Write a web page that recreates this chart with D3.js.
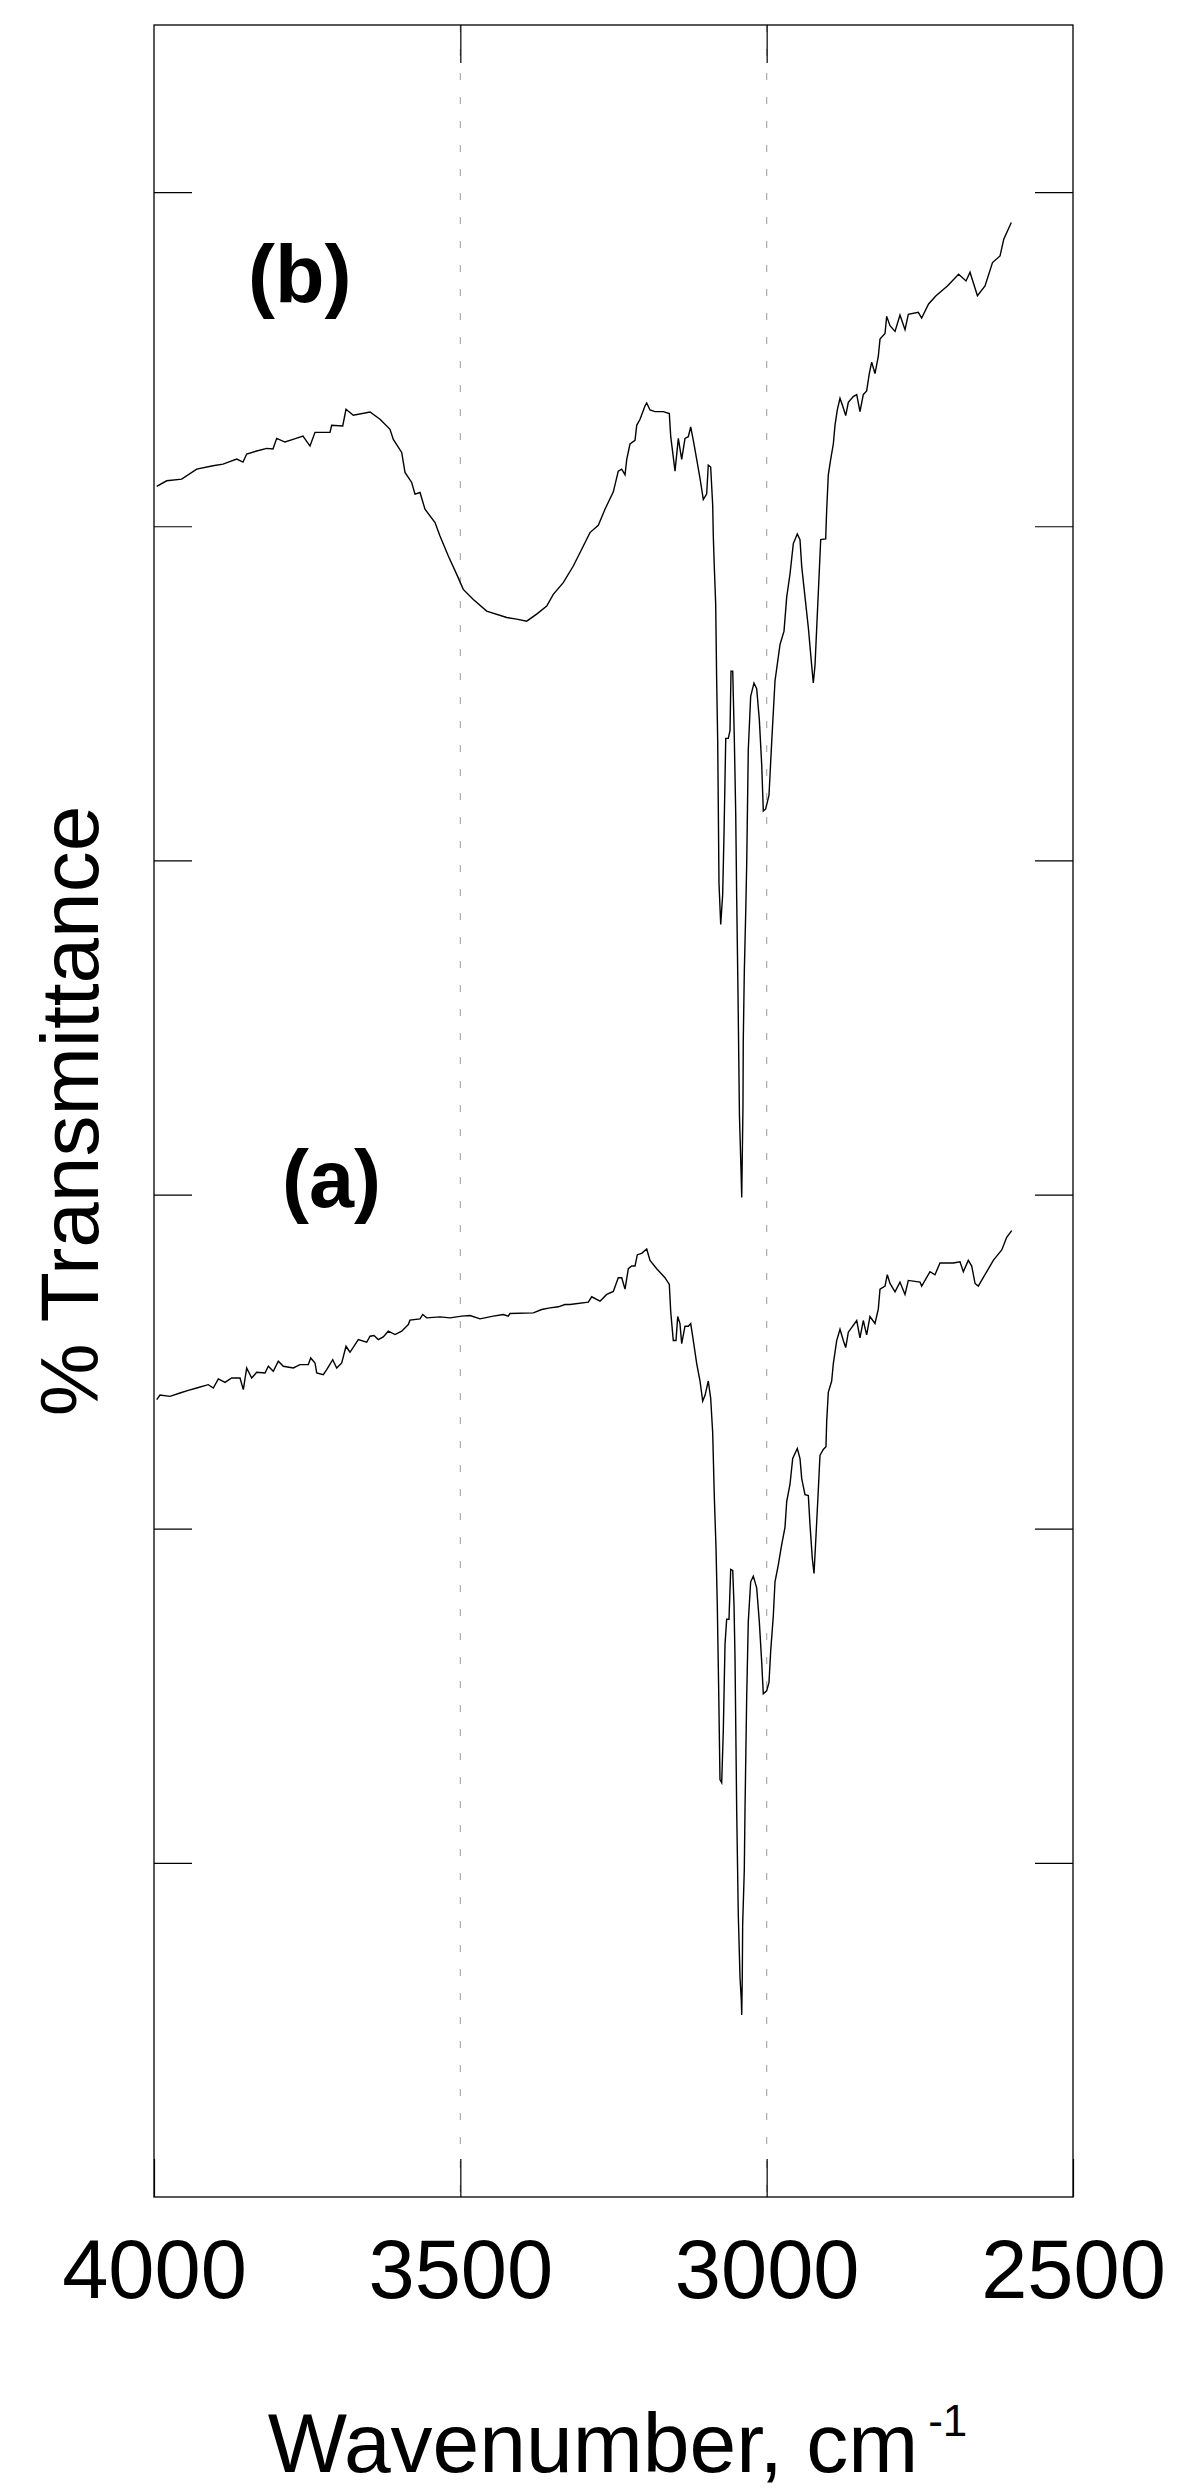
<!DOCTYPE html>
<html>
<head>
<meta charset="utf-8">
<script src="https://cdn.jsdelivr.net/npm/d3@7"></script>
<style>
  html, body { margin: 0; padding: 0; background: #fff; }
  svg { display: block; }
  text { font-family: "Liberation Sans", Arial, Helvetica, sans-serif; fill: #000; }
</style>
</head>
<body>
<svg id="chart" width="1179" height="2492"></svg>
<script>
// ---- data ----
const xTicks = [4000, 3500, 3000, 2500];
const yTicks = [10, 20, 30, 40, 50, 60];
const gridWn = [3500, 3000];
const seriesLabels = ["(a)", "(b)"];

// spectrum (b) – upper trace
const wnB = [3995.6,3979.3,3954.8,3930.3,3903.7,3887.4,3865.0,3854.7,3848.7,3832.4,3816.0,3805.8,3799.7,3786.2,3773.1,3756.8,3745.4,3737.2,3712.7,3710.0,3692.0,3686.6,3674.7,3647.4,3631.1,3614.8,3609.4,3595.7,3590.3,3579.4,3574.0,3565.8,3557.7,3541.3,3533.2,3519.6,3505.9,3495.2,3478.8,3457.0,3424.3,3408.0,3391.7,3375.4,3359.0,3348.3,3332.0,3315.6,3301.9,3288.4,3274.8,3263.9,3250.3,3242.2,3236.6,3231.2,3228.4,3223.1,3214.9,3212.1,3206.7,3198.6,3195.8,3190.4,3182.3,3168.7,3158.9,3156.6,3153.4,3149.6,3144.2,3138.7,3133.3,3127.9,3124.0,3119.7,3114.2,3108.8,3103.4,3097.9,3095.3,3091.4,3088.1,3087.1,3085.5,3083.2,3081.6,3079.9,3077.8,3075.0,3071.8,3069.6,3066.8,3062.6,3059.8,3058.2,3055.4,3052.8,3050.5,3048.9,3046.8,3044.4,3041.9,3040.7,3039.8,3038.7,3038.2,3036.5,3034.2,3032.6,3030.0,3026.1,3020.7,3016.3,3012.0,3008.1,3005.5,3001.6,2996.2,2991.8,2986.4,2978.2,2971.7,2967.3,2961.9,2956.5,2950.0,2945.6,2942.8,2937.4,2932.0,2926.5,2923.9,2921.1,2918.3,2914.6,2911.8,2903.7,2902.0,2899.4,2895.5,2891.2,2888.5,2884.7,2880.3,2875.9,2871.0,2866.7,2858.6,2853.0,2847.7,2842.3,2836.8,2832.5,2828.6,2823.2,2817.8,2815.0,2806.8,2804.1,2798.7,2790.5,2782.4,2774.2,2768.8,2752.5,2747.0,2735.7,2723.6,2705.0,2686.7,2674.6,2668.1,2656.0,2643.6,2631.4,2619.1,2613.0,2600.7];
const tB = [51.19,51.36,51.41,51.71,51.81,51.86,52.01,51.92,52.16,52.25,52.33,52.31,52.63,52.52,52.60,52.70,52.40,52.81,52.81,53.02,53.00,53.50,53.32,53.42,53.20,52.90,52.60,52.21,51.61,51.31,50.96,51.01,50.51,50.11,49.71,49.11,48.56,48.11,47.81,47.46,47.27,47.22,47.16,47.37,47.61,47.96,48.31,48.81,49.31,49.81,50.03,50.51,51.03,51.65,51.71,51.54,52.00,52.46,52.57,53.02,53.20,53.60,53.69,53.48,53.43,53.43,53.37,52.68,52.22,51.65,52.63,52.00,52.63,52.68,52.97,52.57,52.00,51.43,50.80,50.97,51.83,51.77,50.63,49.71,48.80,47.66,45.37,43.54,39.31,38.08,38.98,40.81,43.65,43.65,43.89,45.66,45.66,43.65,41.38,38.83,36.05,32.34,30.75,29.91,31.14,32.60,34.58,36.65,38.44,39.88,43.32,44.91,45.31,45.14,44.22,42.86,41.48,41.54,41.95,43.54,45.37,46.46,46.86,47.88,48.57,49.48,49.77,49.60,48.80,47.88,46.97,45.83,45.31,45.83,46.97,48.46,49.60,49.62,50.51,51.54,52.00,52.46,53.02,53.48,53.83,53.60,53.31,53.71,53.88,53.94,53.43,53.94,54.05,54.57,54.91,54.57,55.08,55.60,55.77,56.28,56.00,55.83,56.32,55.88,56.34,56.40,56.23,56.65,56.90,57.19,57.54,57.34,57.60,56.90,57.19,57.89,58.09,58.59,59.09];

// spectrum (a) – lower trace
const wnA = [3995.6,3990.2,3973.9,3957.6,3944.0,3930.3,3911.4,3903.2,3895.0,3884.1,3873.2,3859.6,3854.2,3848.7,3840.5,3832.4,3818.8,3813.4,3805.3,3797.1,3788.9,3772.6,3761.7,3748.2,3744.2,3737.2,3734.4,3723.7,3718.1,3708.3,3701.8,3693.6,3686.6,3680.1,3666.5,3652.8,3647.4,3640.9,3633.9,3625.8,3617.6,3606.6,3595.7,3584.9,3582.2,3565.8,3561.4,3554.9,3533.2,3516.9,3497.8,3484.2,3467.9,3446.2,3429.9,3421.8,3419.0,3380.9,3367.2,3353.6,3340.1,3329.2,3321.0,3291.1,3285.6,3272.0,3261.1,3250.3,3242.2,3236.6,3231.2,3225.8,3220.3,3214.9,3211.1,3204.0,3195.8,3190.4,3179.5,3166.0,3158.9,3156.6,3152.4,3148.0,3145.2,3141.5,3138.7,3133.3,3127.9,3124.0,3119.7,3114.2,3108.8,3104.4,3100.6,3095.3,3091.4,3088.1,3085.5,3082.7,3080.6,3078.3,3076.2,3073.4,3070.8,3068.0,3065.3,3061.5,3058.7,3055.4,3053.3,3051.7,3048.9,3046.3,3043.5,3041.4,3040.7,3039.8,3039.2,3036.5,3035.4,3032.6,3030.0,3026.1,3021.8,3016.3,3012.0,3008.1,3005.5,3000.0,2996.2,2993.4,2989.2,2986.4,2981.0,2975.5,2970.1,2967.3,2961.9,2957.5,2950.0,2945.6,2942.8,2937.4,2932.0,2929.3,2925.5,2922.7,2919.5,2915.7,2913.0,2907.6,2903.2,2902.0,2899.4,2893.9,2891.2,2885.7,2880.3,2874.9,2871.0,2866.7,2853.0,2847.7,2842.3,2836.8,2831.4,2823.2,2817.8,2815.0,2806.8,2803.1,2798.7,2790.5,2782.4,2774.2,2768.8,2749.7,2747.0,2733.4,2725.3,2717.1,2695.4,2684.4,2679.0,2670.9,2665.3,2659.9,2654.6,2640.8,2630.1,2616.3,2608.2,2600.0];
const tA = [23.86,24.00,23.96,24.06,24.14,24.21,24.31,24.21,24.48,24.38,24.51,24.51,24.16,24.81,24.51,24.68,24.66,24.86,24.71,25.01,24.86,24.81,24.91,24.91,25.11,24.96,24.66,24.61,24.76,25.06,24.81,24.96,25.46,25.28,25.66,25.58,25.76,25.78,25.66,25.74,25.91,25.81,25.91,26.11,26.24,26.28,26.41,26.31,26.34,26.31,26.36,26.38,26.28,26.36,26.41,26.36,26.44,26.46,26.56,26.61,26.64,26.71,26.71,26.78,26.94,26.81,27.01,27.10,27.51,27.51,27.17,27.78,27.86,27.86,28.20,28.24,28.37,28.03,27.78,27.51,27.31,26.49,25.63,25.63,26.35,26.14,25.54,26.06,26.06,26.14,25.63,24.94,24.42,23.82,23.99,24.42,23.91,22.87,20.99,19.44,17.72,15.15,12.49,12.40,13.94,16.53,17.29,17.29,18.78,18.75,17.72,16.17,11.53,8.44,6.56,5.90,5.45,6.59,8.14,9.79,11.53,14.97,17.22,18.41,18.58,18.23,17.22,16.00,15.06,15.15,15.40,16.35,17.38,18.41,18.92,19.52,20.04,20.81,21.33,22.10,22.40,22.10,21.50,21.02,20.99,20.13,19.10,18.66,19.78,21.16,22.19,22.37,22.45,23.22,24.08,24.42,24.94,25.63,25.97,25.63,25.42,25.88,26.23,25.71,26.23,25.80,26.35,26.14,26.57,27.17,27.26,27.60,27.34,27.09,27.38,27.01,27.43,27.38,27.26,27.69,27.60,27.95,27.95,27.99,27.69,28.03,27.86,27.34,27.26,27.69,28.03,28.34,28.72,28.92];

// ---- layout ----
const W = 1179, H = 2492;
const plot = { left: 154, right: 1073, top: 25, bottom: 2197 };
const tickLen = 38;
const fontSize = 83;

const svg = d3.select("#chart");
svg.append("rect").attr("width", W).attr("height", H).attr("fill", "#fff");

const x = d3.scaleLinear().domain([4000, 2500]).range([plot.left, plot.right]);
const y = d3.scaleLinear().domain([0, 65]).range([plot.bottom, plot.top]);

// dashed grid lines
svg.append("g").selectAll("line").data(gridWn).join("line")
  .attr("x1", d => x(d)).attr("x2", d => x(d))
  .attr("y1", plot.top).attr("y2", plot.bottom)
  .attr("stroke", "#aaaaaa").attr("stroke-width", 1.2)
  .attr("stroke-dasharray", "7,17");

// traces
const line = d3.line().x(d => x(d[0])).y(d => y(d[1]));
const traces = [d3.zip(wnA, tA), d3.zip(wnB, tB)];
svg.append("g").selectAll("path").data(traces).join("path")
  .attr("d", line)
  .attr("fill", "none").attr("stroke", "#000").attr("stroke-width", 1.4)
  .attr("stroke-linejoin", "miter");

// axes with inside ticks
const bottomAxis = d3.axisBottom(x).tickValues(xTicks).tickSizeInner(-tickLen).tickSizeOuter(0)
  .tickPadding(42).tickFormat(d3.format("d"));
const gB = svg.append("g").attr("transform", `translate(0,${plot.bottom})`).call(bottomAxis);
gB.select(".domain").remove();
gB.selectAll(".tick line").attr("stroke", "#000").attr("stroke-width", 1.2);
gB.selectAll(".tick text").attr("font-size", fontSize)
  .attr("font-family", '"Liberation Sans", Arial, sans-serif').attr("fill", "#000");

const topAxis = d3.axisTop(x).tickValues(gridWn).tickSizeInner(-tickLen).tickSizeOuter(0).tickFormat("");
const gT = svg.append("g").attr("transform", `translate(0,${plot.top})`).call(topAxis);
gT.select(".domain").remove();
gT.selectAll(".tick line").attr("stroke", "#000").attr("stroke-width", 1.2);

const leftAxis = d3.axisLeft(y).tickValues(yTicks).tickSizeInner(-tickLen).tickSizeOuter(0).tickFormat("");
const gL = svg.append("g").attr("transform", `translate(${plot.left},0)`).call(leftAxis);
gL.select(".domain").remove();
gL.selectAll(".tick line").attr("stroke", "#000").attr("stroke-width", 1.2);

const rightAxis = d3.axisRight(y).tickValues(yTicks).tickSizeInner(-tickLen).tickSizeOuter(0).tickFormat("");
const gR = svg.append("g").attr("transform", `translate(${plot.right},0)`).call(rightAxis);
gR.select(".domain").remove();
gR.selectAll(".tick line").attr("stroke", "#000").attr("stroke-width", 1.2);

// frame
svg.append("rect")
  .attr("x", plot.left).attr("y", plot.top)
  .attr("width", plot.right - plot.left).attr("height", plot.bottom - plot.top)
  .attr("fill", "none").attr("stroke", "#000").attr("stroke-width", 1.3);

// axis titles
const xt = svg.append("text")
  .attr("x", (plot.left + plot.right) / 2 + 4).attr("y", 2472)
  .attr("text-anchor", "middle").attr("font-size", 84);
xt.append("tspan").text("Wavenumber, cm");
xt.append("tspan").attr("font-size", 44).attr("dx", 10).attr("dy", -36).text("-1");

svg.append("text")
  .attr("transform", `translate(98,${(plot.top + plot.bottom) / 2}) rotate(-90)`)
  .attr("text-anchor", "middle").attr("font-size", 82)
  .text("% Transmittance");

// series labels
const labelPos = [[282, 1207], [248, 302]];
svg.append("g").selectAll("text").data(seriesLabels).join("text")
  .attr("x", (d, i) => labelPos[i][0]).attr("y", (d, i) => labelPos[i][1])
  .attr("font-size", 81).attr("font-weight", "bold")
  .text(d => d);
</script>
</body>
</html>
